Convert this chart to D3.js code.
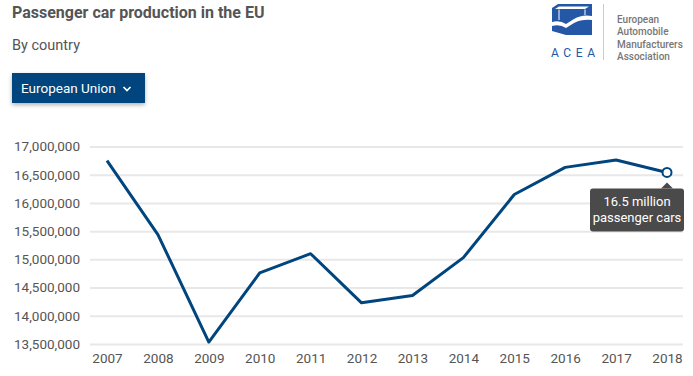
<!DOCTYPE html>
<html>
<head>
<meta charset="utf-8">
<script src="https://cdn.jsdelivr.net/npm/d3@7"></script>
<style>
  body { margin: 0; background: #fff; font-family: Roboto, "Open Sans", sans-serif; }
  .axis text { fill: #555; font-size: 13.5px; font-family: Roboto, sans-serif; }
  .axis .domain { display: none; }
</style>
</head>
<body>
<div id="chart"></div>
<script>
(function() {
  // data
  var years = ["2007", "2008", "2009", "2010", "2011", "2012", "2013", "2014", "2015", "2016", "2017", "2018"]
  var production = [16750000, 15440000, 13535000, 14760000, 15100000, 14230000, 14360000, 15030000, 16150000, 16630000, 16760000, 16540000]
  var yTicks = [13500000, 14000000, 14500000, 15000000, 15500000, 16000000, 16500000, 17000000]
  var tooltipLines = ["16.5 million", "passenger cars"]
  var logoLines = ["European", "Automobile", "Manufacturers", "Association"]

  var W = 693, H = 376
  var margin = {top: 146.5, right: 10, bottom: 32, left: 90}
  var width = 683 - margin.left,
      height = 344 - margin.top

  var svg = d3.select("#chart").append("svg")
      .attr("width", W)
      .attr("height", H)

  var defs = svg.append("defs")
  var shadow = defs.append("filter").attr("id", "shadow")
      .attr("x", "-10%").attr("y", "-20%").attr("width", "120%").attr("height", "160%")
  shadow.append("feDropShadow")
      .attr("dx", 0).attr("dy", 2).attr("stdDeviation", 2)
      .attr("flood-color", "#000").attr("flood-opacity", 0.3)

  // header
  svg.append("text")
      .attr("x", 12).attr("y", 18)
      .attr("font-size", 16).attr("font-weight", "bold")
      .attr("fill", "#555")
      .text("Passenger car production in the EU")

  svg.append("text")
      .attr("x", 12).attr("y", 50)
      .attr("font-size", 14.5)
      .attr("fill", "#555")
      .text("By country")

  var button = svg.append("g")
  button.append("rect")
      .attr("x", 12).attr("y", 73).attr("width", 133).attr("height", 30)
      .attr("fill", "#00457e")
      .attr("filter", "url(#shadow)")
  button.append("text")
      .attr("x", 21).attr("y", 93)
      .attr("font-size", 13.5)
      .attr("fill", "#fff")
      .text("European Union")
  button.append("path")
      .attr("d", "M123.5,87 L127,90.5 L130.5,87")
      .attr("fill", "none").attr("stroke", "#fff").attr("stroke-width", 1.7)

  // logo
  var logo = svg.append("g")
  var logoBlue = "#2457a6"
  logo.append("path")
      .attr("d", "M552,8 L558,4 L592,4 L592,16 Q582,14 574,19 L566,24 Q560,20 552,22 Z")
      .attr("fill", logoBlue)
  logo.append("path")
      .attr("d", "M555,9 L559,6.5 L589,6.5 L585,9 Z")
      .attr("fill", "#fff")
  logo.append("path")
      .attr("d", "M559,9.5 L559,20 M585,9.5 L585,15")
      .attr("stroke", "#fff").attr("stroke-width", 1)
  logo.append("path")
      .attr("d", "M552,26 Q560,24 566,28 L574,23 Q582,19 592,20 L592,35 L566,35 L552,31 Z")
      .attr("fill", logoBlue)
  logo.append("text")
      .attr("x", 551).attr("y", 57)
      .attr("font-size", 12)
      .attr("letter-spacing", 4.6)
      .attr("fill", logoBlue)
      .text("ACEA")
  logo.append("line")
      .attr("x1", 603.5).attr("x2", 603.5).attr("y1", 4).attr("y2", 60)
      .attr("stroke", "#ccc").attr("stroke-width", 1)
  logo.selectAll(".logo-line")
      .data(logoLines)
      .enter().append("text")
      .attr("class", "logo-line")
      .attr("x", 617)
      .attr("y", function(d, i) { return 23 + i * 12.3 })
      .attr("font-size", 10)
      .attr("font-weight", 500)
      .attr("fill", "#777")
      .text(function(d) { return d })

  // scales
  var xPositionScale = d3.scalePoint()
      .domain(years)
      .range([107, 667])

  var yPositionScale = d3.scaleLinear()
      .domain([13500000, 17000000])
      .range([344, 146.5])

  // axes
  var yAxis = d3.axisLeft(yPositionScale)
      .tickValues(yTicks)
      .tickFormat(d3.format(","))
      .tickSize(-width)
      .tickPadding(10)
  svg.append("g")
      .attr("class", "axis y-axis")
      .attr("transform", "translate(" + margin.left + ",0)")
      .call(yAxis)
      .call(function(g) {
        g.selectAll("line").attr("stroke", "#e8e8e8").attr("stroke-width", 2)
      })

  var xAxis = d3.axisBottom(xPositionScale)
      .tickSize(0)
      .tickPadding(9.5)
  svg.append("g")
      .attr("class", "axis x-axis")
      .attr("transform", "translate(0,344)")
      .call(xAxis)

  // line
  var points = years.map(function(y, i) { return {year: y, value: production[i]} })
  var line = d3.line()
      .x(function(d) { return xPositionScale(d.year) })
      .y(function(d) { return yPositionScale(d.value) })

  svg.append("path")
      .datum(points)
      .attr("d", line)
      .attr("fill", "none")
      .attr("stroke", "#00457e")
      .attr("stroke-width", 3)
      .attr("stroke-linejoin", "round")

  var last = points[points.length - 1]
  var mx = xPositionScale(last.year), my = yPositionScale(last.value)
  svg.append("circle")
      .attr("cx", mx).attr("cy", my).attr("r", 4.5)
      .attr("fill", "#fff")
      .attr("stroke", "#00457e")
      .attr("stroke-width", 2)

  // tooltip
  var tip = svg.append("g")
  var tipTop = my + 16
  tip.append("path")
      .attr("d", "M" + (mx - 6) + "," + tipTop + " L" + mx + "," + (tipTop - 6) + " L" + (mx + 6) + "," + tipTop + " Z")
      .attr("fill", "#4a4a4a")
  tip.append("rect")
      .attr("x", 590).attr("y", tipTop).attr("width", 94).attr("height", 43).attr("rx", 3)
      .attr("fill", "#4a4a4a")
  tip.selectAll(".tip-line")
      .data(tooltipLines)
      .enter().append("text")
      .attr("class", "tip-line")
      .attr("x", 637)
      .attr("y", function(d, i) { return tipTop + 18 + i * 16 })
      .attr("text-anchor", "middle")
      .attr("font-size", 13)
      .attr("fill", "#fff")
      .text(function(d) { return d })
})()
</script>
</body>
</html>
